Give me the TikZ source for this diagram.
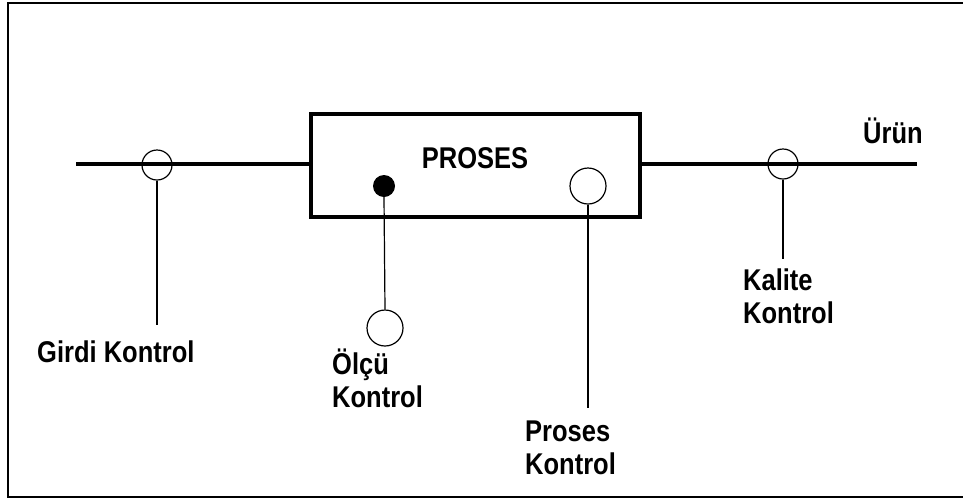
\documentclass[tikz,border=0pt]{standalone}
\usepackage{fontspec}
\usepackage{tikz}
\usetikzlibrary{positioning}
\newfontfamily\labelfont[FakeStretch=0.85]{Liberation Sans}

\begin{document}
\begin{tikzpicture}[x=1pt, y=-1pt,
  font=\labelfont\bfseries\fontsize{30}{33}\selectfont,
  frame/.style={line width=1.5pt},
  mainline/.style={line width=4pt},
  procbox/.style={draw, line width=4pt, minimum width=329pt, minimum height=103pt, inner sep=0pt},
  ring/.style={circle, draw, line width=1.2pt, minimum size=#1, inner sep=0pt},
  ring/.default=30pt,
  dot/.style={circle, fill=black, minimum size=22pt, inner sep=0pt},
  tap/.style={line width=1.2pt},
  lbl/.style={anchor=base west, inner sep=0pt, align=left}]
\useasboundingbox (0,0) rectangle (963,499);

% frame (right side cut off)
\draw[frame] (963,3) -- (8,3) -- (8,497) -- (963,497);

% process box and flow line
\node[procbox] (proses) at (475.5,165.5) {};
\node[inner sep=0pt, anchor=base] (ptitle) at (475,168) {PROSES};
\coordinate (in) at (76,164);
\coordinate (out) at (917,164);
\draw[mainline] (in) -- (in -| proses.west);
\draw[mainline] (out -| proses.east) -- (out);

% control points
\node[ring] (girdi) at (157,165) {};
\node[ring] (kalite) at (783,164) {};
\node[dot] (sensor) at (384,186) {};
\node[ring=36pt] (olcu) at (385,328) {};
\node[ring=36pt] (pkont) at (588,186) {};

\coordinate (girdiend) at (157,325);
\coordinate (kaliteend) at (783,259);
\coordinate (pkontend) at (588,408);
\draw[tap] (girdi.south) -- (girdiend);
\draw[tap] (kalite.south) -- (kaliteend);
\draw[tap] (sensor.south) -- (olcu.north);
\draw[tap] (pkont.south) -- (pkontend);

% labels (base = last line)
\node[lbl] (urun) at (863,143) {Ürün};
\node[lbl] (girdilbl) at (37,362) {Girdi Kontrol};
\node[lbl] (olculbl) at (332,407) {Ölçü\\Kontrol};
\node[lbl] (pkontlbl) at (525,474) {Proses\\Kontrol};
\node[lbl] (kalitelbl) at (743,323) {Kalite\\Kontrol};
\end{tikzpicture}
\end{document}
